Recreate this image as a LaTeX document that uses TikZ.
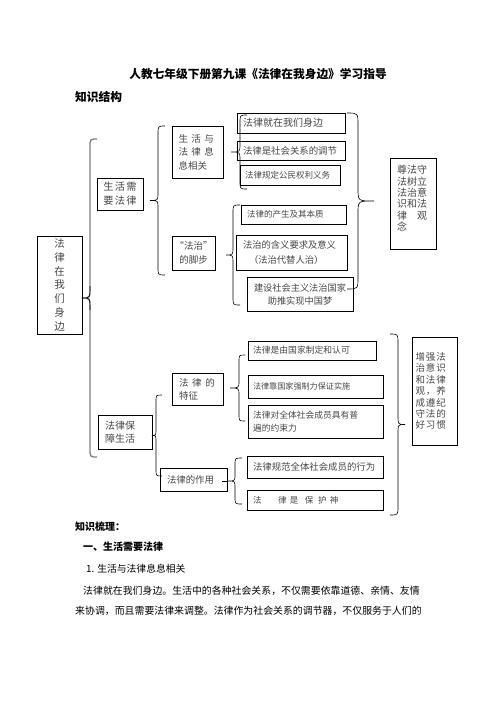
\documentclass[tikz,border=0pt]{standalone}
\usepackage{fontspec}
\setmainfont{Noto Sans CJK SC}
\definecolor{tx}{gray}{0.28}
\definecolor{brg}{gray}{0.5}
\newcommand\fs[2]{\fontsize{#1}{#2}\selectfont}
\newcommand\gap[1]{\hspace{#1pt}}
\newcommand\lsp[1]{\addfontfeatures{LetterSpace=#1}}
\tikzset{
  bx/.style={draw, line width=0.65pt, inner sep=0pt, text=tx},
  brk/.style={line width=0.6pt},
  plain/.style={inner sep=0pt, anchor=west},
}
% box: name, x1, y1, x2, y2, options, text
\newcommand\tbox[7]{\node[bx, minimum width={(#4-#2)*1pt}, minimum height={(#5-#3)*1pt}, #6] (#1) at ({(#2+#4)/2},{(#3+#5)/2}) {#7};}
% left-pointing brace: opts, X, top, bottom, amplitude, curl, radius
\newcommand\BrL[7]{\draw[#1] ({#2+#6},#3) .. controls (#2,#3) .. (#2,{#3+#7})
  -- (#2,{(#3+#4)/2-#7}) .. controls (#2,{(#3+#4)/2}) .. ({#2-#5},{(#3+#4)/2})
  .. controls (#2,{(#3+#4)/2}) .. (#2,{(#3+#4)/2+#7})
  -- (#2,{#4-#7}) .. controls (#2,#4) .. ({#2+#6},#4);}
% right-pointing brace
\newcommand\BrR[7]{\draw[#1] ({#2-#6},#3) .. controls (#2,#3) .. (#2,{#3+#7})
  -- (#2,{(#3+#4)/2-#7}) .. controls (#2,{(#3+#4)/2}) .. ({#2+#5},{(#3+#4)/2})
  .. controls (#2,{(#3+#4)/2}) .. (#2,{(#3+#4)/2+#7})
  -- (#2,{#4-#7}) .. controls (#2,#4) .. ({#2-#6},#4);}
\begin{document}
\begin{tikzpicture}[x=1pt,y=-1pt]
\fill[white] (0,0) rectangle (496,702);
\useasboundingbox (0,0) rectangle (496,702);

% headings
\node[inner sep=0pt, font={\bfseries\fs{11.7}{13}}] (title) at (258,74) {人教七年级下册第九课《法律在我身边》学习指导};
\node[plain, font={\bfseries\fs{11.7}{13}}] (zsjg) at (75,97) {知识结构};

% braces (drawn first)
\BrL{line width=1.3pt, brg}{90}{139}{457}{8}{7}{9}
\draw[brk] (90,286) .. controls (90,298) .. (82,298) .. controls (90,298) .. (90,310);
\BrL{brk}{158}{126}{275}{8}{7}{8}
\BrL{brk}{240}{115}{189}{9}{7}{8}
\BrL{brk}{233}{205}{305}{7}{7}{8}
\BrR{brk}{358}{113}{289}{16}{11}{12}
\BrL{brk}{156}{395}{476}{4}{6}{7}
\BrL{brk}{239}{355}{421}{9}{6}{7}
\BrL{brk}{235}{458}{504}{7}{7}{7}
\draw[brk] (228,481) -- (222,481);
\BrR{brk}{398}{334}{515}{7}{8}{9}

% boxes
\tbox{root}{37}{236}{82}{334}{text width=12pt, align=center, font={\fs{10.5}{13.7}}}{法\\律\\在\\我\\们\\身\\边}
\tbox{need}{97}{178}{143}{210}{text width=40pt, align=center, font={\fs{10.2}{14}\lsp{12}}}{生活需\\要法律}
\tbox{life}{172}{126}{223}{178}{text width=38pt, align=left, font={\fs{9.5}{13.5}}}{生\gap{3.5}活\gap{3.5}与\\法\gap{3.5}律\gap{3.5}息\\息相关}
\tbox{fazhi}{172}{236}{215}{270}{text width=40pt, align=center, font={\fs{9.5}{14}}}{“法治”\\的脚步}
\tbox{jiuzai}{237}{113}{345}{133}{text width=96pt, align=left, font={\fs{10}{12}}}{法律就在我们身边}
\tbox{tiaojie}{237}{141}{345}{160}{text width=96pt, align=left, font={\fs{9.4}{12}}}{法律是社会关系的调节}
\tbox{quanli}{240}{165}{340}{185}{text width=90pt, align=left, font={\fs{8.5}{12}}}{法律规定公民权利义务}
\tbox{benzhi}{241}{205}{346}{224}{text width=93pt, align=left, font={\fs{8.5}{12}}}{法律的产生及其本质}
\tbox{hanyi}{236}{235}{347}{270}{text width=97pt, align=left, font={\fs{9.3}{15}}}{法治的含义要求及意义\\\gap{6}（法治代替人治）}
\tbox{jianshe}{247}{277}{353}{311}{text width=100pt, align=center, font={\fs{9.2}{13}}}{建设社会主义法治国家\\助推实现中国梦}
\tbox{zunfa}{390}{158}{436}{249}{text width=32pt, align=left, font={\fs{10}{11.3}}}{尊法守\\法树立\\法治意\\识和法\\律　观\\念\\\mbox{}}
\tbox{baozhang}{98}{415}{152}{449}{text width=40pt, align=left, font={\fs{10}{13}}}{法律保\\障生活}
\tbox{tezheng}{172}{373}{223}{405}{text width=37pt, align=left, font={\fs{9.5}{13}}}{法\gap{3.7}律\gap{3.7}的\\特征}
\tbox{zuoyong}{160}{468}{227}{491}{text width=53pt, align=left, font={\fs{9.4}{12}}}{法律的作用}
\tbox{zhiding}{248}{341}{376}{360}{text width=118pt, align=left, font={\fs{8.8}{12}}}{法律是由国家制定和认可}
\tbox{qiangzhi}{248}{375}{383}{398}{text width=125pt, align=left, font={\fs{8.1}{12}}}{法律靠国家强制力保证实施}
\tbox{yueshu}{248}{405}{383}{438}{text width=125pt, align=left, font={\fs{8.75}{12.5}}}{法律对全体社会成员具有普\\遍的约束力}
\tbox{xingwei}{247}{456}{383}{478}{text width=124pt, align=left, font={\fs{9.4}{12}}}{法律规范全体社会成员的行为}
\tbox{baohu}{247}{490}{383}{510}{text width=124pt, align=left, font={\fs{8.5}{12}}}{法\gap{16.5}律\gap{3.5}是\gap{6.5}保\gap{4.5}护\gap{3.5}神}
\tbox{zengqiang}{412}{337}{457}{445}{text width=38pt, align=left, font={\fs{9.5}{11.4}\lsp{10}}}{增强法\\治意识\\和法律\\观，养\\成遵纪\\守法的\\好习惯}

% lower text
\node[plain, font={\bfseries\fs{10}{12}}] (zssl) at (75,527) {知识梳理：};
\node[plain, font={\bfseries\fs{10}{12}}] (sec1) at (83,547) {一、生活需要法律};
\node[plain, font={\fs{9.8}{12}}] (sub1) at (86,569) {1. 生活与法律息息相关};
\node[plain, font={\fs{9.9}{12}}] (p1) at (83,591) {法律就在我们身边。生活中的各种社会关系，不仅需要依靠道德、亲情、友情};
\node[plain, font={\fs{9.9}{12}}] (p2) at (75,611) {来协调，而且需要法律来调整。法律作为社会关系的调节器，不仅服务于人们的};
\end{tikzpicture}
\end{document}
